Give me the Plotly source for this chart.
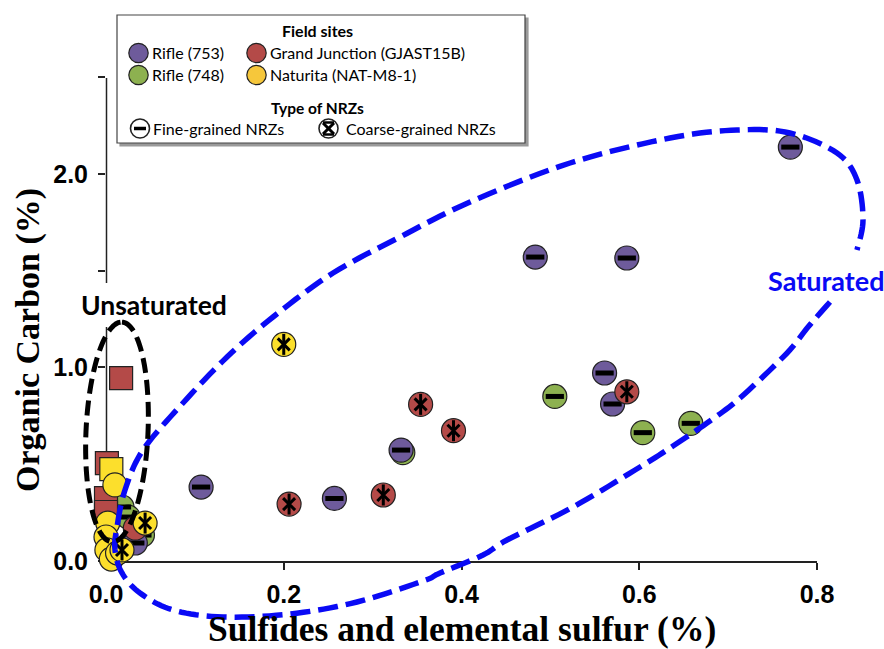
import numpy as np
import plotly.graph_objects as go

# ---------------- data ----------------
# Rifle (753) - fine-grained NRZs
r753_x = [0.770, 0.483, 0.586, 0.561, 0.570, 0.332, 0.107, 0.257, 0.033]
r753_y = [2.138, 1.570, 1.565, 0.971, 0.811, 0.573, 0.382, 0.323, 0.093]
# Rifle (748) - fine-grained NRZs
r748_x = [0.505, 0.604, 0.658, 0.334, 0.018, 0.025, 0.041]
r748_y = [0.850, 0.663, 0.711, 0.560, 0.279, 0.227, 0.134]
# Grand Junction (GJAST15B) - coarse-grained NRZs
gj_coarse_x = [0.586, 0.354, 0.391, 0.312, 0.206]
gj_coarse_y = [0.874, 0.809, 0.673, 0.341, 0.294]
gj_circle_x = [0.033]
gj_circle_y = [0.170]
# Grand Junction - unsaturated samples (squares)
gj_unsat_x = [0.017, 0.001, 0.000, 0.000]
gj_unsat_y = [0.945, 0.506, 0.325, 0.253]
# Naturita (NAT-M8-1)
nat_coarse_x = [0.200, 0.044, 0.018]
nat_coarse_y = [1.119, 0.196, 0.057]
nat_circle_x = [0.010, 0.002, 0.000, 0.001, 0.006, 0.013]
nat_circle_y = [0.393, 0.196, 0.124, 0.057, 0.010, 0.041]
nat_unsat_x = [0.006]
nat_unsat_y = [0.475]

x_ticks = [0.0, 0.2, 0.4, 0.6, 0.8]
x_ticktext = ["0.0", "0.2", "0.4", "0.6", "0.8"]
y_ticks = [0.0, 0.5, 1.0, 1.5, 2.0, 2.5]
y_ticktext = ["0.0", "", "1.0", "", "2.0", ""]

PURPLE = "#6E5B9B"
GREEN = "#8DB150"
RED = "#B44A48"
YELLOW = "#FCDF2C"
YELLOW_LEG = "#F6C73B"
BLUE = "#0A0AF5"
EDGE = "#222222"

# ---------------- layout geometry ----------------
W, H = 884, 649
ML, MR, MT, MB = 106, 67, 77, 88
PW, PH = W - ML - MR, H - MT - MB
Y0 = H - MB


def P(px, py):
    """pixel -> paper coordinates (for decorations only)"""
    return (px - ML) / PW, (Y0 - py) / PH


fig = go.Figure()


def base(x, y, color, symbol="circle", size=24):
    fig.add_trace(go.Scatter(
        x=x, y=y, mode="markers", cliponaxis=False, showlegend=False,
        hoverinfo="skip",
        marker=dict(symbol=symbol, size=size, color=color,
                    line=dict(color=EDGE, width=1.2))))


def fine(x, y):
    fig.add_trace(go.Scatter(
        x=x, y=y, mode="markers", cliponaxis=False, showlegend=False,
        hoverinfo="skip",
        marker=dict(symbol="line-ew-open", size=13, color="black",
                    line=dict(color="black", width=5))))


def coarse(x, y):
    for sym, sz in (("x-thin-open", 12), ("line-ns-open", 15)):
        fig.add_trace(go.Scatter(
            x=x, y=y, mode="markers", cliponaxis=False, showlegend=False,
            hoverinfo="skip",
            marker=dict(symbol=sym, size=sz, color="black",
                        line=dict(color="black", width=3))))


base(r748_x, r748_y, GREEN); fine(r748_x, r748_y)
base(r753_x, r753_y, PURPLE); fine(r753_x, r753_y)
base(gj_coarse_x, gj_coarse_y, RED); coarse(gj_coarse_x, gj_coarse_y)
base(gj_unsat_x, gj_unsat_y, RED, symbol="square", size=23)
base(gj_circle_x, gj_circle_y, RED)
base(nat_unsat_x, nat_unsat_y, YELLOW, symbol="square", size=23)
base(nat_circle_x, nat_circle_y, YELLOW)
base(nat_coarse_x, nat_coarse_y, YELLOW); coarse(nat_coarse_x, nat_coarse_y)


# ---------------- decorations ----------------
def catmull(points, closed=False, n=10):
    pts = np.array(points, float)
    if closed:
        pts = np.vstack([pts[-1], pts, pts[0], pts[1]])
    else:
        pts = np.vstack([pts[0], pts, pts[-1]])
    out = []
    for i in range(1, len(pts) - 2):
        p0, p1, p2, p3 = pts[i - 1], pts[i], pts[i + 1], pts[i + 2]
        for t in np.linspace(0, 1, n, endpoint=False):
            t2, t3 = t * t, t * t * t
            out.append(0.5 * ((2 * p1) + (-p0 + p2) * t +
                              (2 * p0 - 5 * p1 + 4 * p2 - p3) * t2 +
                              (-p0 + 3 * p1 - 3 * p2 + p3) * t3))
    out.append(pts[-2])
    return out


def path_str(pix, close=False):
    s = []
    for i, (px, py) in enumerate(pix):
        a, b = P(px, py)
        s.append(("M" if i == 0 else "L") + f"{a:.5f},{b:.5f}")
    return " ".join(s) + (" Z" if close else "")


blue_pts = [(830, 302), (808, 327), (787, 353), (740, 398), (707, 423),
            (673, 446), (640, 467), (573, 507), (507, 540), (483, 555),
            (440, 573), (423, 581), (357, 602), (290, 614), (223, 617),
            (173, 610), (140, 593), (122, 573), (115, 550), (117, 527),
            (125, 490), (143, 450), (183, 403), (227, 357), (273, 317),
            (333, 273), (400, 237), (470, 202), (570, 163), (670, 138),
            (737, 130), (790, 133), (837, 153), (857, 180), (863, 220),
            (857, 250)]
shapes = []
shapes.append(dict(type="path", xref="paper", yref="paper", layer="above",
                   path=path_str(catmull(blue_pts)),
                   line=dict(color=BLUE, width=5.5, dash="20px,8px")))

# black (unsaturated) ellipse
cx, cy, ea, eb, phi = 117, 432, 31, 110, 0.045
ts = np.linspace(np.pi / 2 * 3, np.pi / 2 * 3 + 2 * np.pi, 160)
ell = [(cx + ea * np.cos(t) * np.cos(phi) - eb * np.sin(t) * np.sin(phi),
        cy + ea * np.cos(t) * np.sin(phi) + eb * np.sin(t) * np.cos(phi)) for t in ts]
shapes.append(dict(type="path", xref="paper", yref="paper", layer="above",
                   path=path_str(ell, close=True),
                   line=dict(color="black", width=5, dash="15px,7px")))

# y axis line (broken behind the "Unsaturated" label)
for ya, yb in ((561, 327), (283, 78)):
    a0, b0 = P(106.5, ya)
    a1, b1 = P(106.5, yb)
    shapes.append(dict(type="line", xref="paper", yref="paper", layer="below",
                       x0=a0, y0=b0, x1=a1, y1=b1,
                       line=dict(color=EDGE, width=1.5)))

# legend box with shadow
for off, fill, lc in ((3, "#9a9a9a", "#9a9a9a"), (0, "white", "#444444")):
    a0, b0 = P(117 + off, 15 + off)
    a1, b1 = P(525 + off, 143 + off)
    shapes.append(dict(type="rect", xref="paper", yref="paper", layer="above",
                       x0=a0, y0=b1, x1=a1, y1=b0, fillcolor=fill,
                       line=dict(color=lc, width=1.2)))


def circ(px, py, r, fill, lw=1.2):
    a0, b0 = P(px - r, py + r)
    a1, b1 = P(px + r, py - r)
    shapes.append(dict(type="circle", xref="paper", yref="paper", layer="above",
                       x0=a0, y0=b0, x1=a1, y1=b1, fillcolor=fill,
                       line=dict(color=EDGE, width=lw)))


def seg(p, q, w):
    a0, b0 = P(*p)
    a1, b1 = P(*q)
    shapes.append(dict(type="line", xref="paper", yref="paper", layer="above",
                       x0=a0, y0=b0, x1=a1, y1=b1,
                       line=dict(color="black", width=w)))


circ(138.5, 53, 9.7, PURPLE)
circ(256.5, 53, 9.7, RED)
circ(138.5, 75, 9.7, GREEN)
circ(256.5, 75, 9.7, YELLOW_LEG)
circ(140, 128.5, 9.5, "white", 1.6)
seg((134, 128.5), (146, 128.5), 3.5)
circ(328.5, 128.5, 9.5, "white", 1.6)
seg((323, 123), (334, 134), 3)
seg((323, 134), (334, 123), 3)
seg((323, 122.5), (334, 122.5), 2.5)
seg((323, 134.5), (334, 134.5), 2.5)

# ---------------- text ----------------
ann = []


def text(px, py, s, size, family="Lato", color="black", bold=False,
         xanchor="center", angle=0, bg=None):
    a, b = P(px, py)
    d = dict(xref="paper", yref="paper", x=a, y=b, text=s, showarrow=False,
             xanchor=xanchor, yanchor="middle", textangle=angle,
             font=dict(family=family, size=size, color=color,
                       weight="bold" if bold else "normal"))
    if bg:
        d["bgcolor"] = bg
    ann.append(d)


text(317.5, 30, "Field sites", 16, bold=True)
text(150, 53, "Rifle (753)", 16, xanchor="left")
text(268, 53, "Grand Junction (GJAST15B)", 16, xanchor="left")
text(150, 75, "Rifle (748)", 16, xanchor="left")
text(268, 75, "Naturita (NAT-M8-1)", 16, xanchor="left")
text(317, 108, "Type of NRZs", 15.5, bold=True)
text(151, 128.5, "Fine-grained NRZs", 16, xanchor="left")
text(344, 128.5, "Coarse-grained NRZs", 16, xanchor="left")

text(154, 305, "Unsaturated", 26.5, bold=True)
text(766, 280, "Saturated", 27, bold=True, color=BLUE, xanchor="left")

text(462, 629, "Sulfides and elemental sulfur (%)", 35.5,
     family="Liberation Serif", bold=True)
text(28, 340, "Organic Carbon (%)", 34, family="Liberation Serif",
     bold=True, angle=-90)

tickfont = dict(family="Liberation Sans Narrow, Liberation Sans, Arial",
                size=25, color="black", weight="bold")

fig.update_layout(
    width=W, height=H, margin=dict(l=ML, r=MR, t=MT, b=MB),
    paper_bgcolor="white", plot_bgcolor="white", showlegend=False,
    shapes=shapes, annotations=ann,
    xaxis=dict(range=[0, 0.8], tickvals=x_ticks, ticktext=x_ticktext,
               ticks="outside", ticklen=7, tickwidth=1.5, tickcolor=EDGE,
               showline=True, linecolor=EDGE, linewidth=1.5,
               showgrid=False, zeroline=False, layer="below traces",
               tickfont=tickfont, ticklabelstandoff=3),
    yaxis=dict(range=[0, 2.5], tickvals=y_ticks, ticktext=y_ticktext,
               ticks="outside", ticklen=7, tickwidth=1.5, tickcolor=EDGE,
               showline=False, showgrid=False, zeroline=False,
               layer="below traces", tickfont=tickfont, ticklabelstandoff=5),
)

fig.write_html("out.html")
